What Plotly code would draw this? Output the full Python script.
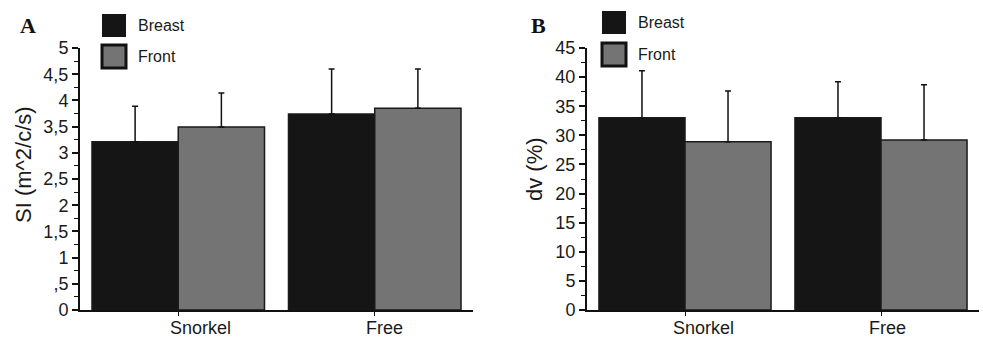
import plotly.graph_objects as go

categories = ["Snorkel", "Free"]
series_names = ["Breast", "Front"]

# Panel A: SI (m^2/c/s)
si_breast = [3.21, 3.74]
si_breast_sd = [0.68, 0.86]
si_front = [3.49, 3.85]
si_front_sd = [0.65, 0.75]

# Panel B: dv (%)
dv_breast = [33.0, 33.0]
dv_breast_sd = [8.1, 6.2]
dv_front = [28.9, 29.2]
dv_front_sd = [8.7, 9.5]

si_tickvals = [0, 0.5, 1, 1.5, 2, 2.5, 3, 3.5, 4, 4.5, 5]
si_ticktext = ["0", ",5", "1", "1,5", "2", "2,5", "3", "3,5", "4", "4,5", "5"]
dv_tickvals = [0, 5, 10, 15, 20, 25, 30, 35, 40, 45]
dv_ticktext = ["0", "5", "10", "15", "20", "25", "30", "35", "40", "45"]

colors = ["#151515", "#747474"]
W, H = 983, 339
FONT = "Liberation Sans, Arial, sans-serif"
TXT = "#1a1a1a"

fig = go.Figure()

def add_bars(vals_list, sd_list, xa, ya):
    for name, vals, sd, col in zip(series_names, vals_list, sd_list, colors):
        fig.add_trace(go.Bar(
            x=categories, y=vals, name=name, xaxis=xa, yaxis=ya,
            marker=dict(color=col, line=dict(color="#1a1a1a", width=1.5)),
            error_y=dict(type="data", symmetric=False, array=sd,
                         arrayminus=[0] * len(sd), color="#111111",
                         thickness=1.5, width=3),
            showlegend=False,
        ))

add_bars([si_breast, si_front], [si_breast_sd, si_front_sd], "x", "y")
add_bars([dv_breast, dv_front], [dv_breast_sd, dv_front_sd], "x2", "y2")

ydom = [(H - 310) / H, (H - 48) / H]
common_x = dict(type="category", range=[-0.5, 1.5], showline=True,
                linecolor="#111111", linewidth=2, ticks="outside", ticklen=4,
                tickwidth=1.2, tickcolor="#111111", showgrid=False,
                showticklabels=False, fixedrange=True, automargin=False)
common_y = dict(showline=True, linecolor="#111111", linewidth=2,
                ticks="outside", ticklen=6, tickwidth=1.5, tickcolor="#111111",
                showgrid=False, zeroline=False, domain=ydom, automargin=False,
                tickfont=dict(family=FONT, size=18, color=TXT))

fig.update_layout(
    width=W, height=H, margin=dict(l=0, r=0, t=0, b=0, pad=0, autoexpand=False),
    paper_bgcolor="white", plot_bgcolor="white",
    barmode="group", bargap=0.122, bargroupgap=0,
    xaxis=dict(common_x, domain=[80 / W, 473 / W], anchor="y"),
    xaxis2=dict(common_x, domain=[587 / W, 979 / W], anchor="y2"),
    yaxis=dict(common_y, range=[0, 5], tickvals=si_tickvals,
               ticktext=si_ticktext, anchor="x",
               minor=dict(ticks="outside", dtick=0.25, ticklen=4,
                          tickwidth=1.2, tickcolor="#111111")),
    yaxis2=dict(common_y, range=[0, 45], tickvals=dv_tickvals,
                ticktext=dv_ticktext, anchor="x2",
                minor=dict(ticks="outside", dtick=2.5, ticklen=4,
                           tickwidth=1.2, tickcolor="#111111")),
    showlegend=False,
)

shapes = []
annotations = []

# category labels (slightly offset to the right as in the original)
for xref, shifts in [("x", [22, 10]), ("x2", [18, 6])]:
    for cat, sh in zip(categories, shifts):
        annotations.append(dict(xref=xref, yref="paper", x=cat, y=(H - 328) / H,
                                xshift=sh, text=cat, showarrow=False,
                                xanchor="center", yanchor="middle",
                                font=dict(family=FONT, size=18, color=TXT)))

def legend(x0, y_breast, y_front):
    for name, col, yt in zip(series_names, colors, [y_breast, y_front]):
        shapes.append(dict(type="rect", xref="paper", yref="paper",
                           x0=x0 / W, x1=(x0 + 24) / W,
                           y0=(H - yt - 23) / H, y1=(H - yt) / H,
                           fillcolor=col,
                           line=dict(color="#111111", width=3 if name == "Front" else 0)))
        annotations.append(dict(xref="paper", yref="paper", x=(x0 + 34) / W,
                                y=(H - yt - 11.5) / H, text=name, showarrow=False,
                                xanchor="left", yanchor="middle",
                                font=dict(family=FONT, size=16, color=TXT)))

legend(102, 14, 45)
legend(602, 11, 43)

for letter, x in [("A", 28), ("B", 538)]:
    annotations.append(dict(xref="paper", yref="paper", x=x / W, y=(H - 26) / H,
                            text="<b>%s</b>" % letter, showarrow=False,
                            xanchor="center", yanchor="middle",
                            font=dict(family="Liberation Serif, Times New Roman, serif",
                                      size=22, color="#111111")))

annotations.append(dict(xref="paper", yref="paper", x=23 / W, y=(H - 165) / H,
                        text="SI (m^2/c/s)", textangle=-90, showarrow=False,
                        xanchor="center", yanchor="middle",
                        font=dict(family=FONT, size=22, color=TXT)))
annotations.append(dict(xref="paper", yref="paper", x=534 / W, y=(H - 169) / H,
                        text="dv (%)", textangle=-90, showarrow=False,
                        xanchor="center", yanchor="middle",
                        font=dict(family=FONT, size=22, color=TXT)))

fig.update_layout(shapes=shapes, annotations=annotations)
fig.write_html("out.html")
